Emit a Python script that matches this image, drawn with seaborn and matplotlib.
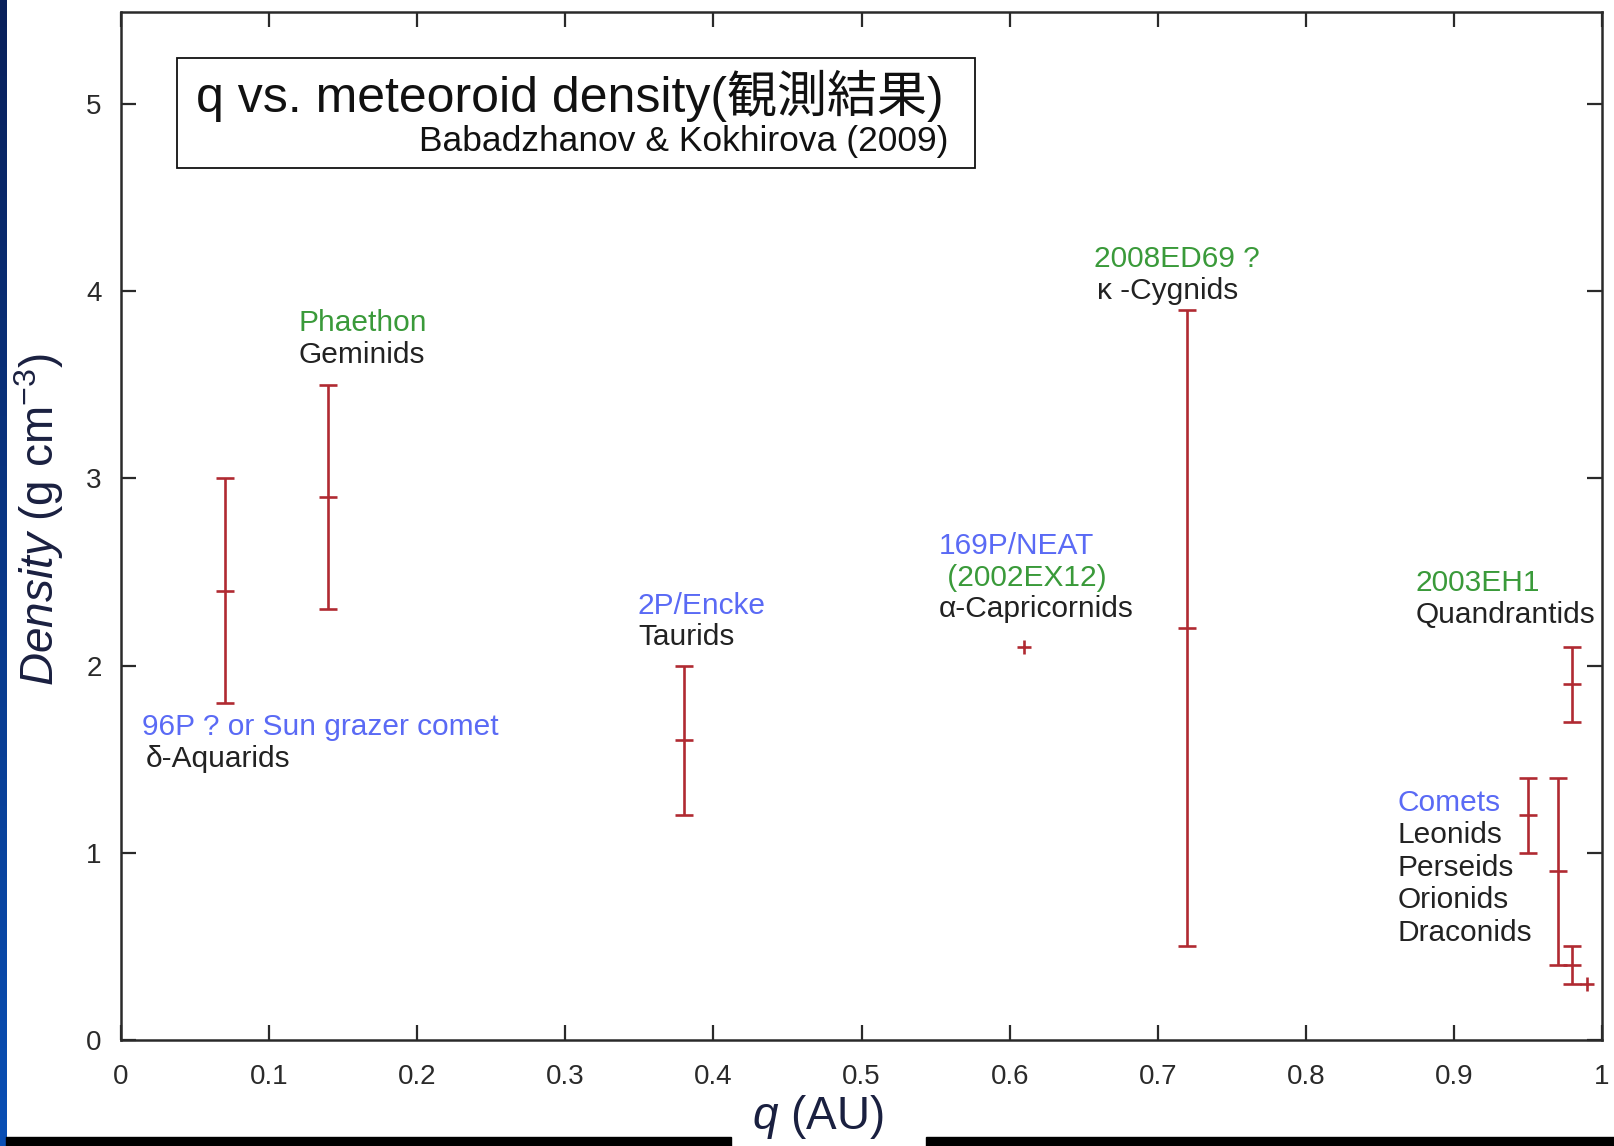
import numpy as np
import pandas as pd
import seaborn as sns
from matplotlib import pyplot as plt
from matplotlib.patches import Rectangle

# meteor showers: perihelion distance q (AU) vs. bulk density (g cm^-3)
showers = ["δ-Aquarids", "Geminids", "Taurids", "α-Capricornids", "κ-Cygnids",
           "Leonids", "Perseids", "Quadrantids", "Orionids", "Draconids"]
q_au = [0.07, 0.14, 0.38, 0.61, 0.72, 0.95, 0.97, 0.98, 0.98, 0.99]
density = [2.4, 2.9, 1.6, 2.1, 2.2, 1.2, 0.9, 1.9, 0.4, 0.3]
density_err = [0.6, 0.6, 0.4, 0.0, 1.7, 0.2, 0.5, 0.2, 0.1, 0.0]

x_ticks = [0, 0.1, 0.2, 0.3, 0.4, 0.5, 0.6, 0.7, 0.8, 0.9, 1.0]
x_tick_labels = ["0", "0.1", "0.2", "0.3", "0.4", "0.5", "0.6", "0.7", "0.8", "0.9", "1"]
y_ticks = [0, 1, 2, 3, 4, 5]
y_tick_labels = ["0", "1", "2", "3", "4", "5"]

# annotation lines: text and colour kind
label_text = ["Phaethon", "Geminids",
              "96P ? or Sun grazer comet", "δ-Aquarids",
              "2P/Encke", "Taurids",
              "169P/NEAT", " (2002EX12)", "α-Capricornids",
              "2008ED69 ?", "κ -Cygnids",
              "2003EH1", "Quandrantids",
              "Comets", "Leonids", "Perseids", "Orionids", "Draconids"]
label_kind = ["asteroid", "shower",
              "comet", "shower",
              "comet", "shower",
              "comet", "asteroid", "shower",
              "asteroid", "shower",
              "asteroid", "shower",
              "comet", "shower", "shower", "shower", "shower"]
label_pos = [(0.120, 3.83), (0.120, 3.66),
             (0.014, 1.67), (0.017, 1.50),
             (0.349, 2.32), (0.349, 2.15),
             (0.552, 2.64), (0.552, 2.47), (0.552, 2.30),
             (0.657, 4.17), (0.659, 4.00),
             (0.874, 2.44), (0.874, 2.27),
             (0.862, 1.265), (0.862, 1.095), (0.862, 0.92), (0.862, 0.745), (0.862, 0.57)]
kind_colors = {"asteroid": "#3a9a3a", "comet": "#5a6af5", "shower": "#222222"}

df = pd.DataFrame({"shower": showers, "q": q_au, "density": density, "err": density_err})
with_err = df[df["err"] > 0]
no_err = df[df["err"] == 0]

sns.set_theme(style="ticks")
plt.rcParams["font.family"] = ["Liberation Sans", "Noto Sans CJK JP", "DejaVu Sans"]
plt.rcParams["mathtext.fontset"] = "custom"
plt.rcParams["mathtext.rm"] = "Liberation Sans"
plt.rcParams["mathtext.it"] = "Liberation Sans:italic"

red = "#b02a32"
ink = "#2a2a2a"

fig = plt.figure(figsize=(16.14, 11.46), dpi=100)
fig.patch.set_facecolor("white")
ax = fig.add_axes([0.075, 0.0925, 0.9176, 0.897])

ax.errorbar(with_err["q"], with_err["density"], yerr=with_err["err"], fmt="none",
            ecolor=red, elinewidth=1.9, capsize=6.5, capthick=1.9, zorder=3)
sns.scatterplot(data=with_err, x="q", y="density", marker="_", s=170, color=red,
                linewidth=1.9, ax=ax, zorder=4, legend=False)
sns.scatterplot(data=no_err, x="q", y="density", marker="+", s=110, color=red,
                linewidth=1.9, ax=ax, zorder=4, legend=False)

for txt, kind, (lx, ly) in zip(label_text, label_kind, label_pos):
    ax.text(lx, ly, txt, color=kind_colors[kind], fontsize=21.5, ha="left", va="center")

# title box
ax.add_patch(Rectangle((0.0378, 4.658), 0.539, 0.588, fill=False, edgecolor="#111111",
                       linewidth=1.3, zorder=5))
ax.text(0.0506, 5.04, "q vs. meteoroid density(観測結果)", fontsize=36, color="#111111",
        ha="left", va="center", family=["Liberation Sans", "Noto Sans CJK JP"])
ax.text(0.559, 4.80, "Babadzhanov & Kokhirova (2009)", fontsize=25.5, color="#111111",
        ha="right", va="center")

ax.set_xlim(0, 1)
ax.set_ylim(0, 5.49)
ax.set_xticks(x_ticks)
ax.set_xticklabels(x_tick_labels)
ax.set_yticks(y_ticks)
ax.set_yticklabels(y_tick_labels)
ax.tick_params(direction="in", length=11, width=1.6, color=ink, labelsize=20,
               labelcolor=ink, top=True, right=True)
ax.tick_params(axis="x", pad=17)
ax.tick_params(axis="y", pad=14)

for sp in ax.spines.values():
    sp.set_linewidth(1.8)
    sp.set_color(ink)

ax.set_xlabel(r"$\mathit{q}$ (AU)", fontsize=33, color="#1a2040")
ax.xaxis.set_label_coords(0.4706, -0.052)
ax.set_ylabel(r"$\mathit{Density}$ (g cm$^{-3}$)", fontsize=33, color="#1a2040")
ax.yaxis.set_label_coords(-0.037, 0.506)

# slide decoration: blue strip on left, black bar at bottom with a gap for the label
strip = fig.add_axes([0, 0, 0.004, 1])
grad = np.linspace(0, 1, 256).reshape(-1, 1)
strip.imshow(grad, aspect="auto", cmap=sns.blend_palette(["#08205a", "#0a4fb5"], as_cmap=True),
             extent=[0, 1, 0, 1], origin="upper")
strip.axis("off")
fig.patches.append(Rectangle((0.004, 0), 0.449, 0.008, transform=fig.transFigure,
                             color="black", zorder=10))
fig.patches.append(Rectangle((0.574, 0), 0.426, 0.008, transform=fig.transFigure,
                             color="black", zorder=10))

fig.savefig("out.png", dpi=100)
